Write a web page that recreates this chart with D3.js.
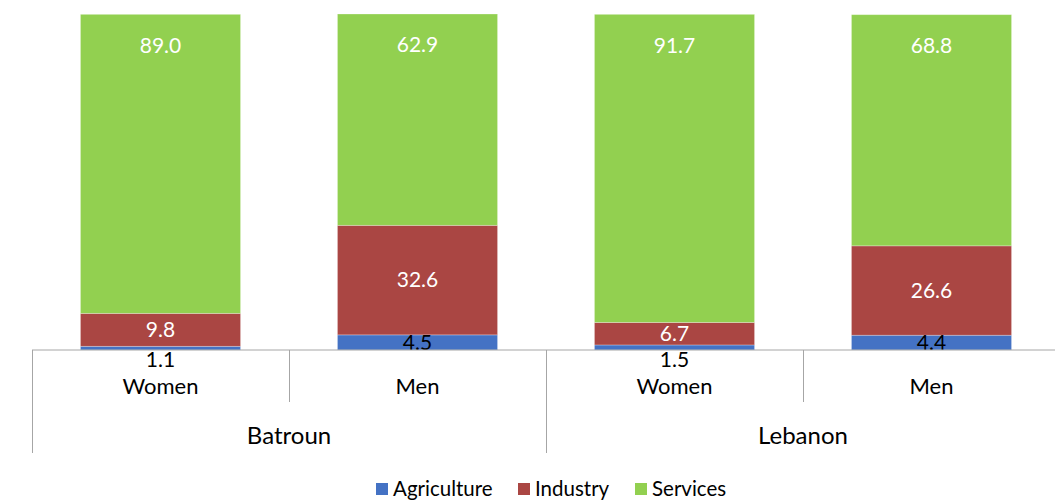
<!DOCTYPE html>
<html>
<head>
<meta charset="utf-8">
<script src="https://cdn.jsdelivr.net/npm/d3@7"></script>
<style>
  html, body { margin: 0; padding: 0; background: #fff; }
  svg { display: block; font-family: Lato, "Open Sans", sans-serif; }
</style>
</head>
<body>
<svg id="chart" width="1055" height="500"></svg>
<script>
// Employment by sector (%), by sex and area
const groups = ["Batroun", "Lebanon"];
const sexes = ["Women", "Men"];
const sectors = ["Agriculture", "Industry", "Services"];
const agriculture = [1.1, 4.5, 1.5, 4.4];
const industry = [9.8, 32.6, 6.7, 26.6];
const services = [89.0, 62.9, 91.7, 68.8];
const colors = ["#4472C4", "#AA4643", "#92D050"];
const labelColors = ["#000", "#fff", "#fff"];

const rows = [];
groups.forEach((g, gi) => sexes.forEach((s, si) => {
  const i = gi * sexes.length + si;
  rows.push({ key: g + "|" + s, group: g, sex: s,
    Agriculture: agriculture[i], Industry: industry[i], Services: services[i] });
}));

const svg = d3.select("#chart");
const plotLeft = 32, plotRight = 1060, plotBase = 350, plotTop = 14;

const x = d3.scaleBand().domain(rows.map(d => d.key))
  .range([plotLeft, plotRight]).paddingInner(0.377).paddingOuter(0.1885);
const xGroup = d3.scaleBand().domain(groups).range([plotLeft, plotRight]);
const y = d3.scaleLinear().domain([0, 100]).range([plotBase, plotTop]);

const stack = d3.stack().keys(sectors)(rows);

const layer = svg.selectAll("g.layer").data(stack).join("g")
  .attr("class", "layer").attr("fill", (d, i) => colors[i]);

layer.selectAll("rect").data(d => d).join("rect")
  .attr("x", d => x(d.data.key))
  .attr("width", x.bandwidth())
  .attr("y", d => y(d[1]))
  .attr("height", d => y(d[0]) - y(d[1]))
  .attr("stroke", "rgba(255,255,255,0.35)")
  .attr("stroke-width", 0.8);

// value labels
stack.forEach((s, si) => {
  svg.append("g").selectAll("text").data(s).join("text")
    .attr("x", d => x(d.data.key) + x.bandwidth() / 2)
    .attr("y", d => {
      const h = y(d[0]) - y(d[1]);
      if (si === 2) return y(d[1]) + 31;           // inside end
      if (h < 10) return plotBase + 10;            // thin segment: nudged below
      return (y(d[0]) + y(d[1])) / 2;
    })
    .attr("dy", "0.35em")
    .attr("text-anchor", "middle")
    .attr("font-size", 21)
    .attr("fill", labelColors[si])
    .text(d => d.data[sectors[si]].toFixed(1));
});

// category axis
const axisColor = "#a6a6a6";
svg.append("line").attr("x1", plotLeft).attr("x2", plotRight)
  .attr("y1", plotBase).attr("y2", plotBase)
  .attr("stroke", axisColor).attr("stroke-width", 1);

const inner = svg.append("g");
rows.forEach((d, i) => {
  const x0 = x(d.key) - x.step() * x.paddingInner() / 2;
  const isGroupStart = i % sexes.length === 0;
  inner.append("line")
    .attr("x1", x0 + 0.5).attr("x2", x0 + 0.5)
    .attr("y1", plotBase).attr("y2", isGroupStart ? 453 : 402)
    .attr("stroke", axisColor);
  inner.append("text")
    .attr("x", x(d.key) + x.bandwidth() / 2)
    .attr("y", 386.5).attr("dy", "0.35em")
    .attr("text-anchor", "middle").attr("font-size", 22).attr("fill", "#000")
    .text(d.sex);
});

svg.append("g").selectAll("text").data(groups).join("text")
  .attr("x", g => xGroup(g) + xGroup.bandwidth() / 2)
  .attr("y", 436).attr("dy", "0.35em")
  .attr("text-anchor", "middle").attr("font-size", 24).attr("fill", "#000")
  .text(g => g);

// legend
const legendX = [376, 518, 635];
const legend = svg.append("g").selectAll("g").data(sectors).join("g")
  .attr("transform", (d, i) => `translate(${legendX[i]},483)`);
legend.append("rect").attr("width", 12).attr("height", 12)
  .attr("fill", (d, i) => colors[i]);
legend.append("text").attr("x", 17).attr("y", 6).attr("dy", "0.35em")
  .attr("font-size", 20.5).attr("fill", "#000").text(d => d);
</script>
</body>
</html>
